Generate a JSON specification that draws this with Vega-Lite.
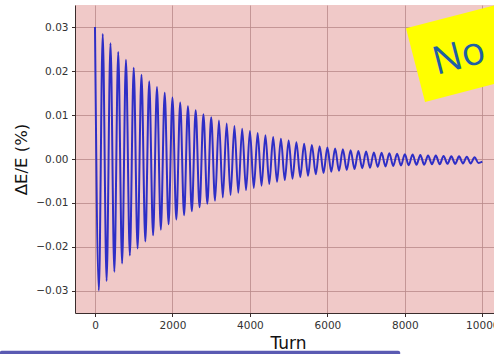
{
  "$schema": "https://vega.github.io/schema/vega-lite/v6.json",
  "width": 419,
  "height": 308,
  "autosize": {"type": "none"},
  "padding": {"left": 75, "top": 5, "right": 0, "bottom": 41},
  "background": "white",
  "config": {
    "view": {"stroke": null, "fill": "#f0c9c8"},
    "axis": {
      "labelFont": "DejaVu Sans",
      "titleFont": "DejaVu Sans",
      "labelColor": "#333333",
      "titleColor": "#111111",
      "domainColor": "#3a2c2c",
      "tickColor": "#3a2c2c",
      "tickSize": 3.5,
      "labelPadding": 3.5,
      "gridColor": "#b98a8a",
      "gridOpacity": 0.8,
      "gridWidth": 1,
      "labelFontSize": 10.5,
      "titleFontWeight": "normal",
      "labelFlush": false
    }
  },
  "datasets": {
    "curve": [
      {"t": 0, "v": 0.0301}, {"t": 100, "v": -0.0300}, {"t": 200, "v": 0.0285}, {"t": 300, "v": -0.0278},
      {"t": 400, "v": 0.0264}, {"t": 500, "v": -0.0257}, {"t": 600, "v": 0.0244}, {"t": 700, "v": -0.0238},
      {"t": 800, "v": 0.0226}, {"t": 900, "v": -0.0220}, {"t": 1000, "v": 0.0208}, {"t": 1100, "v": -0.0204},
      {"t": 1200, "v": 0.0192}, {"t": 1300, "v": -0.0188}, {"t": 1400, "v": 0.0177}, {"t": 1500, "v": -0.0174},
      {"t": 1600, "v": 0.0164}, {"t": 1700, "v": -0.0161}, {"t": 1800, "v": 0.0151}, {"t": 1900, "v": -0.0149},
      {"t": 2000, "v": 0.0140}, {"t": 2100, "v": -0.0138}, {"t": 2200, "v": 0.0129}, {"t": 2300, "v": -0.0128},
      {"t": 2400, "v": 0.0120}, {"t": 2500, "v": -0.0119}, {"t": 2600, "v": 0.0111}, {"t": 2700, "v": -0.0110},
      {"t": 2800, "v": 0.0102}, {"t": 2900, "v": -0.0102}, {"t": 3000, "v": 0.0095}, {"t": 3100, "v": -0.0095},
      {"t": 3200, "v": 0.0088}, {"t": 3300, "v": -0.0088}, {"t": 3400, "v": 0.0081}, {"t": 3500, "v": -0.0082},
      {"t": 3600, "v": 0.0075}, {"t": 3700, "v": -0.0077}, {"t": 3800, "v": 0.0069}, {"t": 3900, "v": -0.0071},
      {"t": 4000, "v": 0.0064}, {"t": 4100, "v": -0.0066}, {"t": 4200, "v": 0.0059}, {"t": 4300, "v": -0.0061},
      {"t": 4400, "v": 0.0054}, {"t": 4500, "v": -0.0057}, {"t": 4600, "v": 0.0050}, {"t": 4700, "v": -0.0052},
      {"t": 4800, "v": 0.0046}, {"t": 4900, "v": -0.0048}, {"t": 5000, "v": 0.0042}, {"t": 5100, "v": -0.0045},
      {"t": 5200, "v": 0.0038}, {"t": 5300, "v": -0.0041}, {"t": 5400, "v": 0.0035}, {"t": 5500, "v": -0.0038},
      {"t": 5600, "v": 0.0032}, {"t": 5700, "v": -0.0035}, {"t": 5800, "v": 0.0029}, {"t": 5900, "v": -0.0032},
      {"t": 6000, "v": 0.0026}, {"t": 6100, "v": -0.0029}, {"t": 6200, "v": 0.0024}, {"t": 6300, "v": -0.0027},
      {"t": 6400, "v": 0.0022}, {"t": 6500, "v": -0.0025}, {"t": 6600, "v": 0.0020}, {"t": 6700, "v": -0.0023},
      {"t": 6800, "v": 0.0018}, {"t": 6900, "v": -0.0021}, {"t": 7000, "v": 0.0017}, {"t": 7100, "v": -0.0020},
      {"t": 7200, "v": 0.0015}, {"t": 7300, "v": -0.0018}, {"t": 7400, "v": 0.0014}, {"t": 7500, "v": -0.0017},
      {"t": 7600, "v": 0.0013}, {"t": 7700, "v": -0.0016}, {"t": 7800, "v": 0.0012}, {"t": 7900, "v": -0.0015},
      {"t": 8000, "v": 0.0011}, {"t": 8100, "v": -0.0014}, {"t": 8200, "v": 0.0010}, {"t": 8300, "v": -0.0013},
      {"t": 8400, "v": 0.0009}, {"t": 8500, "v": -0.0013}, {"t": 8600, "v": 0.0008}, {"t": 8700, "v": -0.0012},
      {"t": 8800, "v": 0.0008}, {"t": 8900, "v": -0.0012}, {"t": 9000, "v": 0.0007}, {"t": 9100, "v": -0.0011},
      {"t": 9200, "v": 0.0006}, {"t": 9300, "v": -0.0011}, {"t": 9400, "v": 0.0006}, {"t": 9500, "v": -0.0010},
      {"t": 9600, "v": 0.0005}, {"t": 9700, "v": -0.0010}, {"t": 9800, "v": 0.0004}, {"t": 9900, "v": -0.0009},
      {"t": 10000, "v": -0.0006}
    ],
    "box": [{"t": 10775, "v": 0.02711}],
    "label": [{"t": 8816, "v": 0.01916, "txt": "No"}],
    "bar": [{"t0": -2460, "t1": 7880, "v0": -0.0437, "v1": -0.0470}]
  },
  "layer": [
    {
      "data": {"name": "curve"},
      "mark": {"type": "line", "interpolate": "monotone", "color": "#2e2ec6", "strokeWidth": 2},
      "encoding": {
        "x": {
          "field": "t", "type": "quantitative",
          "scale": {"domain": [-516, 10302], "nice": false, "zero": false},
          "axis": {
            "title": "Turn", "values": [0, 2000, 4000, 6000, 8000, 10000], "format": "d",
            "titleFontSize": 17, "titleX": 213, "titleY": 30, "titleBaseline": "middle", "titleAlign": "center"
          }
        },
        "y": {
          "field": "v", "type": "quantitative",
          "scale": {"domain": [-0.0351, 0.0351], "nice": false, "zero": false},
          "axis": {
            "title": "ΔE/E (%)", "values": [-0.03, -0.02, -0.01, 0, 0.01, 0.02, 0.03], "format": ".2f",
            "titleFontSize": 16.5, "titleX": -54, "titleY": 154, "titleAngle": -90,
            "titleAlign": "center", "titleBaseline": "middle"
          }
        }
      }
    },
    {
      "mark": {"type": "rule", "color": "#3a2c2c", "strokeWidth": 1},
      "encoding": {"y": {"datum": 0.0351, "type": "quantitative"}}
    },
    {
      "data": {"name": "box"},
      "mark": {
        "type": "point", "shape": "M -1 -0.38 L 1 -0.38 L 1 0.38 L -1 0.38 Z",
        "size": 40000, "angle": -14.5, "filled": true, "color": "#ffff00", "opacity": 1, "strokeWidth": 0
      },
      "encoding": {
        "x": {"field": "t", "type": "quantitative"},
        "y": {"field": "v", "type": "quantitative"}
      }
    },
    {
      "data": {"name": "label"},
      "mark": {
        "type": "text", "font": "Open Sans", "fontSize": 39, "angle": -14.5,
        "align": "left", "baseline": "alphabetic", "color": "#1f5fa5"
      },
      "encoding": {
        "x": {"field": "t", "type": "quantitative"},
        "y": {"field": "v", "type": "quantitative"},
        "text": {"field": "txt"}
      }
    },
    {
      "data": {"name": "bar"},
      "mark": {"type": "rect", "color": "#5a5ab2", "cornerRadius": 2},
      "encoding": {
        "x": {"field": "t0", "type": "quantitative"},
        "x2": {"field": "t1"},
        "y": {"field": "v0", "type": "quantitative"},
        "y2": {"field": "v1"}
      }
    }
  ]
}
